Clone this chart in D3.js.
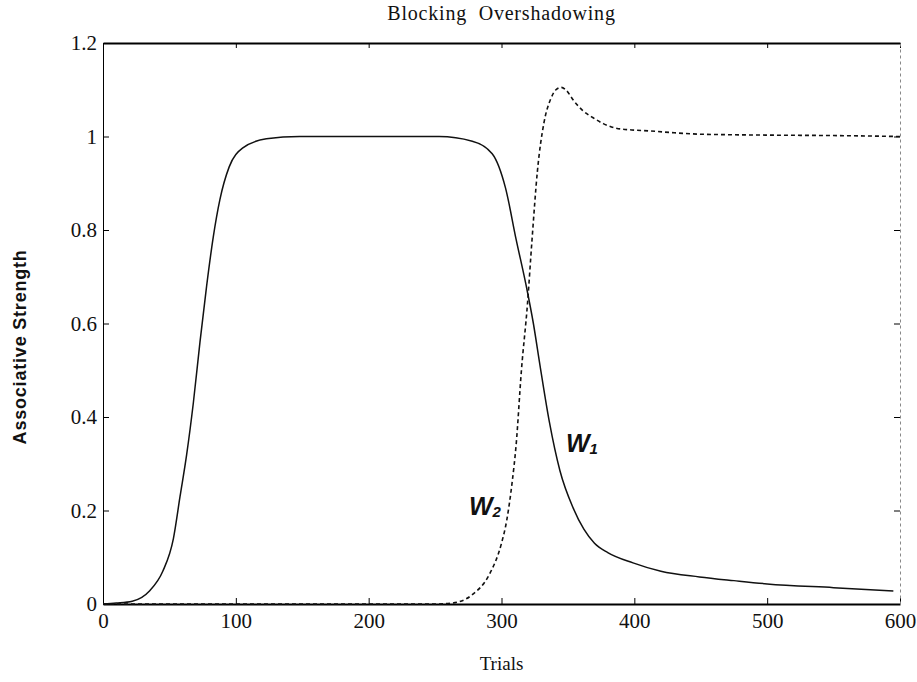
<!DOCTYPE html>
<html>
<head>
<meta charset="utf-8">
<script src="https://cdn.jsdelivr.net/npm/d3@7"></script>
<style>
  body { margin: 0; background: #fff; }
  svg text { font-family: "Liberation Serif", "Times New Roman", serif; fill: #111; }
</style>
</head>
<body>
<div id="app"></div>
<script>
// associative strength of the two cues over trials
const w1Trials = [0, 10, 22, 35, 45, 53, 58, 63, 68, 73, 78, 83, 88, 95, 105, 123, 148, 253,
  278, 293, 303, 311, 319, 324, 329, 336, 344, 354, 362, 370, 380, 399, 420, 449, 475, 500, 550, 595];
const w1Values = [0, 0.002, 0.006, 0.028, 0.07, 0.14, 0.23, 0.32, 0.43, 0.56, 0.68, 0.785, 0.865, 0.935, 0.975, 0.995, 1.0, 1.0,
  0.99, 0.963, 0.89, 0.78, 0.675, 0.6, 0.51, 0.39, 0.285, 0.205, 0.16, 0.13, 0.11, 0.088, 0.07, 0.058, 0.05, 0.043, 0.035, 0.028];

const w2Trials = [0, 250, 263, 278, 291, 300, 304, 308, 311, 315, 319.5, 323, 327, 332, 337, 341, 345, 349,
  354, 361, 369, 377, 386, 398, 411, 430, 449, 500, 550, 600];
const w2Values = [0, 0, 0.002, 0.02, 0.064, 0.13, 0.18, 0.26, 0.34, 0.5, 0.64, 0.78, 0.925, 1.03, 1.08, 1.1, 1.105, 1.098,
  1.078, 1.056, 1.04, 1.027, 1.018, 1.014, 1.012, 1.008, 1.005, 1.003, 1.002, 1.0];

const xTicks = [0, 100, 200, 300, 400, 500, 600];
const yTicks = [0, 0.2, 0.4, 0.6, 0.8, 1, 1.2];

const margin = { top: 43, right: 17, bottom: 78, left: 103 };
const width = 917 - margin.left - margin.right;
const height = 682 - margin.top - margin.bottom;

const x = d3.scaleLinear().domain([0, 600]).range([0, width]);
const y = d3.scaleLinear().domain([0, 1.2]).range([height, 0]);

const svg = d3.select("#app")
  .append("svg")
  .attr("width", 917)
  .attr("height", 682)
  .append("g")
  .attr("transform", `translate(${margin.left}, ${margin.top})`);

// axes, ticks pointing inward
const xAxis = svg.append("g")
  .attr("transform", `translate(0, ${height})`)
  .call(d3.axisBottom(x).tickValues(xTicks).tickSizeInner(-6).tickSizeOuter(0).tickPadding(9));
xAxis.select(".domain").attr("stroke-width", 2);
xAxis.selectAll("text")
  .style("font-family", "'Liberation Serif', serif")
  .attr("font-size", 21);

const yAxis = svg.append("g")
  .call(d3.axisLeft(y).tickValues(yTicks).tickFormat(d3.format("~g")).tickSizeInner(-6).tickSizeOuter(0).tickPadding(6));
yAxis.selectAll("text")
  .style("font-family", "'Liberation Serif', serif")
  .attr("font-size", 21);

svg.append("g")
  .call(d3.axisTop(x).tickValues(xTicks).tickSizeInner(-5).tickSizeOuter(0).tickFormat(""))
  .select(".domain").attr("stroke-width", 2);

const right = svg.append("g")
  .attr("transform", `translate(${width}, 0)`)
  .call(d3.axisRight(y).tickValues(yTicks).tickSizeInner(-6).tickSizeOuter(0).tickFormat(""));
right.select(".domain").attr("stroke", "#888").attr("stroke-dasharray", "3,3");

const line = d3.line()
  .x(d => x(d[0]))
  .y(d => y(d[1]))
  .curve(d3.curveMonotoneX);

svg.append("path")
  .datum(d3.zip(w1Trials, w1Values))
  .attr("fill", "none")
  .attr("stroke", "#111")
  .attr("stroke-width", 1.5)
  .attr("d", line);

svg.append("path")
  .datum(d3.zip(w2Trials, w2Values))
  .attr("fill", "none")
  .attr("stroke", "#111")
  .attr("stroke-width", 1.6)
  .attr("stroke-dasharray", "4,3")
  .attr("d", line);

// curve labels
function curveLabel(px, py, sub) {
  const t = svg.append("text")
    .attr("x", px)
    .attr("y", py)
    .style("font-family", "'Liberation Sans', Arial, sans-serif")
    .style("font-style", "italic")
    .style("font-weight", "bold")
    .attr("font-size", 25);
  t.append("tspan").text("W");
  t.append("tspan").attr("dy", 2).attr("font-size", 15).text(sub);
}
curveLabel(x(348.5), y(0.325), "1");
curveLabel(x(275.5), y(0.19), "2");

// titles
svg.append("text")
  .attr("x", x(300))
  .attr("y", -23)
  .attr("text-anchor", "middle")
  .attr("font-size", 20)
  .attr("letter-spacing", 0.8)
  .attr("xml:space", "preserve")
  .text("Blocking  Overshadowing");

svg.append("text")
  .attr("x", x(300))
  .attr("y", height + 66)
  .attr("text-anchor", "middle")
  .attr("font-size", 19)
  .text("Trials");

svg.append("text")
  .attr("transform", `translate(${-77}, ${y(0.55)}) rotate(-90)`)
  .attr("text-anchor", "middle")
  .style("font-family", "'Liberation Sans', Arial, sans-serif")
  .style("font-weight", "bold")
  .attr("font-size", 18)
  .attr("letter-spacing", 0.8)
  .text("Associative Strength");
</script>
</body>
</html>
